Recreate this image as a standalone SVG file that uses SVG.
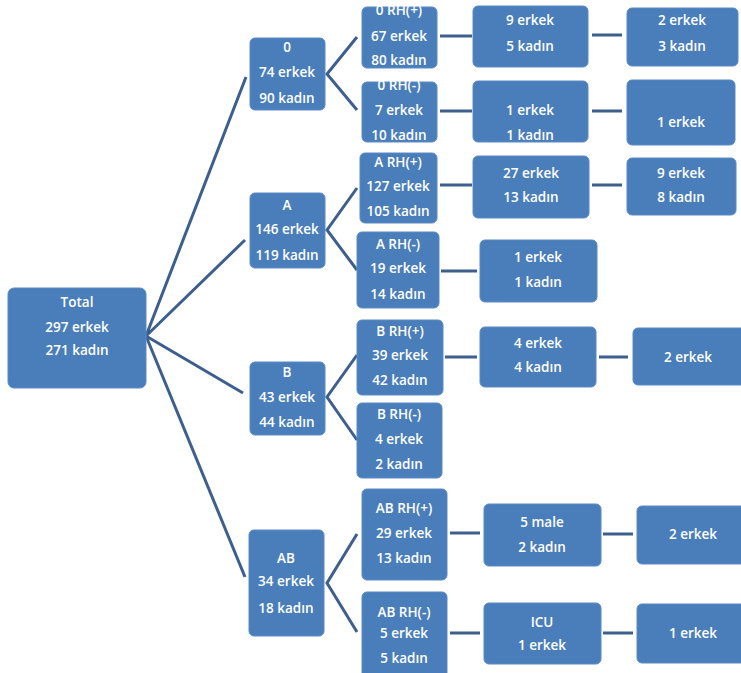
<svg xmlns="http://www.w3.org/2000/svg" width="741" height="673" viewBox="0 0 741 673">
<style>
.b{fill:#4a7ebb;stroke:#5a8bc6;stroke-width:1}
.t{fill:#ffffff;font-family:"Open Sans","Liberation Sans",sans-serif;font-weight:600;font-size:13.5px;text-anchor:middle}
.c{stroke:#3d5f8e;stroke-width:3;fill:none;stroke-linecap:butt}
</style>
<rect width="741" height="673" fill="#ffffff"/>
<g id="connectors">
<path class="c" d="M146 336 L246 77 M146 336 L245 240 M146 336 L243 393 M146 336 L245 577"/>
<path class="c" d="M357 37 L327 74 L357 110 M357 188 L327 230 L357 270 M357 355 L327 397 L357 440 M357 534 L327 583 L357 632"/>
<path class="c" d="M440 36 H472 M440 111 H472 M440 185 H472 M441 271 H477 M445 357 H477 M450 533 H480 M450 633 H480"/>
<path class="c" d="M592 35 H622 M592 111 H622 M592 185 H622 M599 357 H628 M603 534 H633 M603 633 H633"/>
</g>
<g id="total"><rect class="b" x="8" y="288" width="138" height="100" rx="6"/>
<text class="t" x="77" y="307">Total</text><text class="t" x="77" y="332">297 erkek</text><text class="t" x="77" y="355">271 kadın</text></g>
<g id="o"><rect class="b" x="250" y="38" width="75" height="72" rx="5"/>
<text class="t" x="287" y="52">0</text><text class="t" x="287" y="77">74 erkek</text><text class="t" x="287" y="103">90 kadın</text></g>
<g id="a"><rect class="b" x="250" y="193" width="75" height="75" rx="5"/>
<text class="t" x="287" y="210">A</text><text class="t" x="287" y="234">146 erkek</text><text class="t" x="287" y="260">119 kadın</text></g>
<g id="b"><rect class="b" x="250" y="362" width="75" height="73" rx="5"/>
<text class="t" x="287" y="377">B</text><text class="t" x="287" y="402">43 erkek</text><text class="t" x="287" y="427">44 kadın</text></g>
<g id="ab"><rect class="b" x="249" y="530" width="75" height="106" rx="5"/>
<text class="t" x="286" y="563">AB</text><text class="t" x="286" y="586">34 erkek</text><text class="t" x="286" y="613">18 kadın</text></g>
<g id="orhp"><rect class="b" x="362" y="7" width="75" height="61" rx="5"/>
<text class="t" x="399" y="15">0 RH(+)</text><text class="t" x="399" y="41">67 erkek</text><text class="t" x="399" y="65">80 kadın</text></g>
<g id="orhn"><rect class="b" x="362" y="82" width="75" height="60" rx="5"/>
<text class="t" x="399" y="90">0 RH(-)</text><text class="t" x="399" y="115">7 erkek</text><text class="t" x="399" y="140">10 kadın</text></g>
<g id="arhp"><rect class="b" x="360" y="153" width="77" height="70" rx="5"/>
<text class="t" x="398" y="167">A RH(+)</text><text class="t" x="398" y="191">127 erkek</text><text class="t" x="398" y="216">105 kadın</text></g>
<g id="arhn"><rect class="b" x="357" y="232" width="82" height="76" rx="5"/>
<text class="t" x="398" y="249">A RH(-)</text><text class="t" x="398" y="273">19 erkek</text><text class="t" x="398" y="299">14 kadın</text></g>
<g id="brhp"><rect class="b" x="357" y="320" width="86" height="75" rx="5"/>
<text class="t" x="400" y="336">B RH(+)</text><text class="t" x="400" y="360">39 erkek</text><text class="t" x="400" y="385">42 kadın</text></g>
<g id="brhn"><rect class="b" x="357" y="403" width="85" height="75" rx="5"/>
<text class="t" x="399" y="419">B RH(-)</text><text class="t" x="399" y="444">4 erkek</text><text class="t" x="399" y="469">2  kadın</text></g>
<g id="abrhp"><rect class="b" x="362" y="489" width="85" height="91" rx="5"/>
<text class="t" x="404" y="513">AB RH(+)</text><text class="t" x="404" y="538">29 erkek</text><text class="t" x="404" y="563">13 kadın</text></g>
<g id="abrhn"><rect class="b" x="362" y="592" width="85" height="90" rx="5"/>
<text class="t" x="404" y="617">AB RH(-)</text><text class="t" x="404" y="638">5 erkek</text><text class="t" x="404" y="663">5 kadın</text></g>
<g id="o3p"><rect class="b" x="473" y="6" width="115" height="61" rx="5"/>
<text class="t" x="530" y="25">9 erkek</text><text class="t" x="530" y="51">5 kadın</text></g>
<g id="o3n"><rect class="b" x="473" y="81" width="115" height="61" rx="5"/>
<text class="t" x="530" y="115">1 erkek</text><text class="t" x="530" y="140">1 kadın</text></g>
<g id="a3p"><rect class="b" x="473" y="156" width="116" height="62" rx="5"/>
<text class="t" x="531" y="178">27 erkek</text><text class="t" x="531" y="202">13 kadın</text></g>
<g id="a3n"><rect class="b" x="480" y="240" width="117" height="62" rx="5"/>
<text class="t" x="538" y="262">1 erkek</text><text class="t" x="538" y="287">1 kadın</text></g>
<g id="b3p"><rect class="b" x="480" y="327" width="116" height="60" rx="5"/>
<text class="t" x="538" y="348">4 erkek</text><text class="t" x="538" y="372">4 kadın</text></g>
<g id="ab3p"><rect class="b" x="484" y="504" width="117" height="62" rx="5"/>
<text class="t" x="542" y="527">5 male</text><text class="t" x="542" y="552">2 kadın</text></g>
<g id="ab3n"><rect class="b" x="484" y="603" width="117" height="61" rx="5"/>
<text class="t" x="542" y="627">ICU</text><text class="t" x="542" y="650">1 erkek</text></g>
<g id="o4p"><rect class="b" x="627" y="8" width="111" height="58" rx="5"/>
<text class="t" x="682" y="25">2 erkek</text><text class="t" x="682" y="51">3 kadın</text></g>
<g id="o4n"><rect class="b" x="627" y="80" width="108" height="65" rx="5"/>
<text class="t" x="681" y="127">1 erkek</text></g>
<g id="a4p"><rect class="b" x="627" y="158" width="109" height="57" rx="5"/>
<text class="t" x="681" y="178">9 erkek</text><text class="t" x="681" y="202">8 kadın</text></g>
<g id="b4p"><rect class="b" x="633" y="328" width="114" height="57" rx="5"/>
<text class="t" x="688" y="362">2 erkek</text></g>
<g id="ab4p"><rect class="b" x="637" y="506" width="110" height="58" rx="5"/>
<text class="t" x="693" y="539">2 erkek</text></g>
<g id="ab4n"><rect class="b" x="637" y="604" width="110" height="59" rx="5"/>
<text class="t" x="693" y="638">1 erkek</text></g>
</svg>
